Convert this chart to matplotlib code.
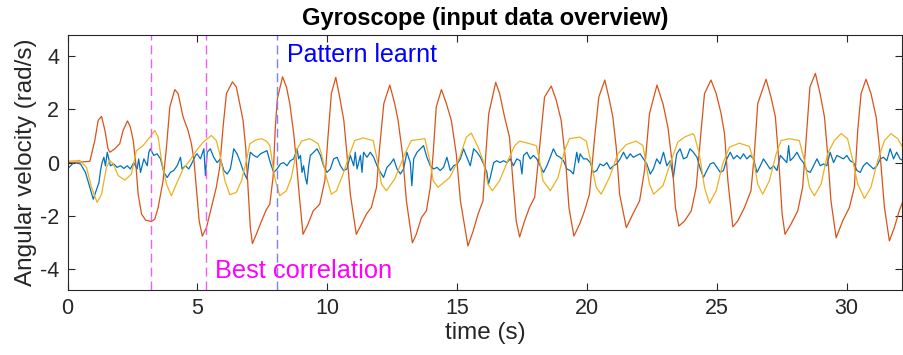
import matplotlib.pyplot as plt

plt.rcParams['font.family'] = ['Liberation Sans', 'DejaVu Sans']
plt.rcParams['axes.unicode_minus'] = False

# gyroscope signals (time in s, value in rad/s)
t_x = [0.0, 0.24, 0.50, 0.69, 0.88, 0.99, 1.08, 1.21, 1.27, 1.33, 1.40, 1.46, 1.53, 1.59, 1.65,
       1.78, 1.91, 2.04, 2.17, 2.30, 2.42, 2.55, 2.68, 2.74, 2.81, 2.94, 3.07, 3.13, 3.19, 3.32,
       3.45, 3.58, 3.71, 3.84, 3.96, 4.09, 4.22, 4.35, 4.41, 4.54, 4.67, 4.80, 4.93, 4.99, 5.12,
       5.25, 5.31, 5.38, 5.50, 5.63, 5.76, 5.89, 6.02, 6.15, 6.27, 6.34, 6.40, 6.53, 6.66, 6.79,
       6.91, 6.98, 7.04, 7.17, 7.30, 7.43, 7.56, 7.68, 7.81, 7.94, 8.07, 8.20, 8.32, 8.45, 8.58,
       8.71, 8.84, 8.90, 8.97, 9.03, 9.09, 9.16, 9.22, 9.29, 9.35, 9.48, 9.61, 9.74, 9.86, 9.99,
       10.12, 10.25, 10.38, 10.51, 10.63, 10.76, 10.89, 11.02, 11.08, 11.15, 11.28, 11.34, 11.40,
       11.53, 11.66, 11.79, 11.92, 12.05, 12.17, 12.30, 12.43, 12.56, 12.69, 12.82, 12.94, 13.07,
       13.20, 13.26, 13.33, 13.46, 13.59, 13.71, 13.84, 13.97, 14.10, 14.23, 14.35, 14.48, 14.61,
       14.74, 14.87, 15.00, 15.13, 15.25, 15.38, 15.51, 15.64, 15.77, 15.90, 16.02, 16.15, 16.21,
       16.28, 16.41, 16.53, 16.66, 16.79, 16.92, 17.05, 17.17, 17.30, 17.43, 17.50, 17.56, 17.69,
       17.82, 17.94, 18.07, 18.20, 18.33, 18.46, 18.59, 18.71, 18.84, 18.97, 19.10, 19.23, 19.36,
       19.48, 19.61, 19.68, 19.74, 19.87, 20.00, 20.13, 20.25, 20.38, 20.51, 20.64, 20.77, 20.90,
       21.02, 21.15, 21.28, 21.41, 21.54, 21.67, 21.79, 21.92, 22.05, 22.18, 22.31, 22.44, 22.56,
       22.69, 22.82, 22.95, 23.08, 23.21, 23.33, 23.46, 23.59, 23.72, 23.85, 23.97, 24.10, 24.24,
       24.37, 24.49, 24.62, 24.75, 24.88, 25.01, 25.14, 25.26, 25.39, 25.52, 25.65, 25.78, 25.91,
       26.03, 26.16, 26.29, 26.42, 26.55, 26.68, 26.80, 26.93, 27.06, 27.19, 27.32, 27.45, 27.57,
       27.70, 27.77, 27.83, 27.96, 28.09, 28.22, 28.34, 28.47, 28.60, 28.73, 28.86, 28.99, 29.11,
       29.24, 29.37, 29.50, 29.63, 29.76, 29.88, 30.01, 30.14, 30.27, 30.40, 30.53, 30.65, 30.78,
       30.91, 31.04, 31.17, 31.30, 31.42, 31.55, 31.68, 31.81, 31.93, 32.06, 32.19]
gyro_x = [-0.24, 0.0, -0.05, -0.37, -1.0, -1.38, -1.12, -0.75, -0.30, 0.0, 0.20, -0.12, 0.39, 0.14, -0.12,
          -0.05, -0.18, -0.12, -0.22, -0.12, -0.24, 0.0, -0.24, 0.14, -0.37, 0.14, -0.12, 0.39, 0.52, 0.27,
          0.33, 0.14, -0.37, -0.56, -0.37, -0.30, -0.12, 0.20, -0.24, -0.12, -0.24, 0.0, 0.27, 0.33, 0.14,
          0.52, -0.49, 0.39, 0.52, 0.20, 0.0, 0.14, -0.30, -0.43, -0.24, 0.14, 0.52, 0.33, 0.0, -0.37,
          -0.62, 0.0, 0.39, 0.27, 0.20, 0.33, 0.39, 0.45, 0.0, -0.37, -0.24, -0.05, 0.0, -0.12, 0.07,
          0.14, 0.52, 0.14, 0.27, -0.37, -0.12, -0.56, -0.81, -0.12, 0.27, 0.39, 0.52, 0.27, -0.12, -0.37,
          -0.24, 0.14, 0.20, -0.12, -0.30, -0.24, 0.27, -0.12, 0.39, -0.24, 0.27, -0.37, 0.39,
          0.20, 0.39, 0.20, -0.12, -0.37, -0.56, -0.18, -0.05, 0.14, -0.24, -0.43, -0.24, 0.39,
          0.0, -0.87, 0.14, 0.39, 0.52, 0.64, 0.20, -0.12, -0.24, -0.18, -0.30, -0.18, 0.20,
          -0.30, -0.12, -0.05, 0.14, 0.52, 0.20, -0.12, 0.52, 0.39, 0.20, -0.05, -0.37, -0.81,
          -0.56, 0.0, 0.07, 0.0, 0.07, 0.0, 0.14, -0.12, 0.14, 0.07, -0.43, 0.27, 0.39,
          0.14, 0.27, 0.14, -0.12, -0.37, -0.12, 0.20, 0.52, 0.27, 0.20, 0.07, -0.24, -0.30,
          -0.43, 0.39, 0.0, 0.33, 0.14, 0.14, 0.0, -0.37, -0.30, -0.05, -0.12, 0.0, -0.24,
          -0.12, -0.05, 0.14, 0.39, 0.14, 0.33, 0.20, 0.27, 0.33, 0.14, -0.05, -0.43, -0.24,
          0.14, -0.05, 0.39, -0.12, 0.07, -0.56, 0.33, 0.52, 0.14, 0.20, 0.52, 0.39, 0.20,
          -0.24, -0.56, -0.30, -0.05, 0.0, -0.18, -0.37, -0.30, 0.14, 0.39, 0.14, 0.27, 0.14,
          0.33, 0.14, 0.27, 0.14, -0.37, -0.12, 0.14, -0.05, -0.24, -0.12, -0.30, 0.27, 0.14,
          0.0, 0.64, 0.07, 0.20, 0.39, 0.14, 0.0, -0.30, -0.37, -0.12, 0.14, -0.12, -0.05,
          -0.12, 0.39, 0.0, 0.27, 0.20, 0.14, 0.27, 0.07, 0.0, -0.30, -0.37, -0.12, 0.0,
          -0.12, -0.24, -0.12, 0.14, 0.20, 0.07, 0.52, 0.14, 0.39, 0.14, 0.07]

t_y = [0.0, 0.5, 0.86, 1.05, 1.18, 1.31, 1.44, 1.56, 1.63, 1.82, 2.01, 2.14, 2.31, 2.42, 2.53,
       2.63, 2.72, 2.85, 3.01, 3.23, 3.36, 3.49, 3.68, 3.81, 3.94, 4.13, 4.26, 4.45, 4.64, 4.77,
       4.87, 4.96, 5.07, 5.19, 5.35, 5.54, 5.73, 5.86, 5.99, 6.12, 6.35, 6.50, 6.63, 6.76, 6.86,
       6.95, 7.04, 7.12, 7.27, 7.47, 7.66, 7.79, 7.92, 8.00, 8.08, 8.28, 8.43, 8.56, 8.71, 8.81,
       8.92, 9.07, 9.26, 9.46, 9.71, 9.91, 10.03, 10.16, 10.33, 10.48, 10.64, 10.76, 10.89, 11.12,
       11.32, 11.51, 11.70, 11.90, 12.02, 12.18, 12.41, 12.60, 12.73, 12.90, 13.05, 13.28, 13.43,
       13.63, 13.82, 13.97, 14.08, 14.20, 14.40, 14.59, 14.78, 14.97, 15.13, 15.42, 15.62, 15.81,
       16.00, 16.10, 16.22, 16.49, 16.64, 16.83, 17.02, 17.15, 17.28, 17.41, 17.60, 17.79, 17.99,
       18.18, 18.37, 18.63, 18.82, 19.01, 19.18, 19.31, 19.50, 19.72, 19.91, 20.10, 20.30, 20.46,
       20.69, 20.87, 21.00, 21.13, 21.26, 21.52, 21.77, 22.03, 22.22, 22.41, 22.70, 22.93, 23.12,
       23.29, 23.41, 23.54, 23.76, 24.02, 24.21, 24.40, 24.53, 24.78, 24.98, 25.17, 25.30, 25.43,
       25.62, 25.81, 26.07, 26.32, 26.45, 26.58, 26.90, 27.09, 27.26, 27.39, 27.52, 27.63, 27.86,
       28.12, 28.31, 28.47, 28.59, 28.80, 28.98, 29.15, 29.27, 29.40, 29.60, 29.85, 30.11, 30.30,
       30.43, 30.56, 30.75, 30.94, 31.14, 31.29, 31.46, 31.65, 31.84, 32.03, 32.19]
gyro_y = [0.0, 0.02, 0.05, 0.83, 1.59, 1.74, 1.21, 0.52, 0.39, 0.52, 0.71, 1.21, 1.57, 1.34, 0.83,
          -0.05, -1.19, -1.94, -2.17, -2.22, -2.13, -1.69, -0.68, 0.58, 2.10, 2.75, 2.60, 1.72, 1.21, 0.71,
          0.08, -0.93, -2.20, -2.77, -2.45, -1.69, -0.93, -0.18, 1.34, 2.60, 3.04, 2.85, 2.22, 1.59, 0.58,
          -0.93, -2.45, -3.05, -2.70, -2.20, -1.76, -1.57, -0.50, 1.30, 2.40, 3.23, 2.85, 2.22, 1.09, 0.08,
          -1.19, -2.70, -2.32, -1.82, -1.57, -0.68, 0.96, 2.60, 3.21, 2.47, 1.59, 0.33, -1.19, -2.70,
          -2.32, -1.94, -1.69, -0.93, 0.58, 2.22, 2.92, 2.22, 1.59, 0.33, -1.44, -3.02, -2.70,
          -2.07, -1.82, -0.93, 0.33, 2.10, 2.75, 2.22, 1.59, 0.33, -1.44, -3.14, -2.58, -1.94,
          -1.44, 0.20, 1.84, 3.02, 2.60, 1.72, 0.96, -0.68, -2.20, -2.80, -2.20, -1.69, -1.31,
          0.58, 2.47, 2.88, 2.35, 1.59, 0.08, -1.69, -2.77, -2.32, -1.82, -1.19, 0.96, 2.47,
          3.11, 2.35, 1.72, 0.58, -1.19, -2.45, -1.94, -1.44, -0.30, 1.84, 2.92, 2.22, 1.34,
          -0.05, -1.69, -2.39, -2.20, -1.82, -0.93, 1.21, 2.60, 3.11, 2.60, 1.84, 1.09, -0.68,
          -2.42, -2.20, -1.69, -1.06, 0.33, 2.22, 3.14, 2.47, 1.72, 0.08, -1.94, -2.70, -2.32,
          -1.82, -0.93, 1.21, 2.85, 3.36, 2.60, 1.72, 0.33, -1.44, -2.83, -2.20, -1.69, -0.93,
          1.21, 2.60, 3.14, 2.60, 1.72, 0.33, -1.69, -2.95, -2.45, -1.82, -1.40]

t_z = [0.0, 0.47, 0.73, 0.92, 1.14, 1.31, 1.50, 1.63, 1.76, 1.95, 2.21, 2.46, 2.65, 2.91, 3.17,
       3.36, 3.49, 3.62, 3.81, 4.00, 4.19, 4.45, 4.71, 4.96, 5.22, 5.54, 5.73, 5.86, 6.06, 6.25,
       6.50, 6.70, 6.89, 7.02, 7.27, 7.47, 7.66, 7.79, 7.98, 8.17, 8.43, 8.62, 8.82, 9.01, 9.33,
       9.65, 9.78, 9.97, 10.16, 10.36, 10.61, 10.87, 11.06, 11.38, 11.77, 11.96, 12.09, 12.28,
       12.60, 12.99, 13.24, 13.76, 13.95, 14.08, 14.27, 14.72, 15.10, 15.36, 15.55, 15.81, 16.00,
       16.19, 16.36, 16.64, 16.96, 17.22, 17.41, 17.73, 18.05, 18.18, 18.31, 18.59, 18.89, 19.14,
       19.33, 19.72, 19.98, 20.17, 20.36, 20.55, 20.87, 21.19, 21.52, 21.90, 22.16, 22.28, 22.41,
       22.57, 22.93, 23.25, 23.50, 23.76, 24.08, 24.14, 24.33, 24.53, 24.72, 24.98, 25.23, 25.49,
       25.87, 26.26, 26.45, 26.58, 26.77, 27.03, 27.29, 27.48, 27.80, 28.18, 28.38, 28.57, 28.76,
       29.02, 29.27, 29.53, 29.79, 30.04, 30.24, 30.43, 30.69, 30.94, 31.20, 31.46, 31.71, 31.97,
       32.16]
gyro_z = [0.05, 0.08, -0.18, -0.93, -1.50, -1.19, -0.18, 0.08, -0.05, -0.49, -0.66, -0.43, 0.45, 0.64, 0.96,
          1.21, 0.96, 0.08, -0.81, -1.25, -0.81, -0.24, 0.08, 0.45, 0.77, 1.02, 0.83, 0.33, -0.68, -1.21,
          -1.12, -0.68, 0.08, 0.71, 0.86, 0.90, 0.81, 0.64, -0.56, -1.25, -1.06, -0.56, 0.45, 0.81, 0.90,
          0.71, 0.33, -0.56, -1.19, -1.06, -0.43, 0.33, 0.83, 0.93, 0.83, -0.05, -0.81, -1.06,
          -0.62, 0.33, 0.83, 0.90, 0.08, -0.68, -0.93, -0.56, 0.20, 0.96, 1.11, 0.58, 0.08,
          -0.81, -1.06, -0.68, 0.08, 0.64, 0.81, 0.73, 0.64, 0.08, -0.68, -1.06, -0.56, 0.45,
          0.90, 0.96, 0.81, -0.05, -0.93, -1.19, -0.56, 0.33, 0.68, 0.81, 0.64, -0.05, -0.81,
          -1.19, -0.87, 0.08, 0.77, 0.96, 1.09, 1.02, 0.33, -0.93, -1.54, -1.06, -0.05, 0.58,
          0.73, 0.61, -0.05, -0.81, -1.19, -0.68, 0.33, 0.83, 0.90, 0.83, 0.08, -0.93, -1.25,
          -0.81, 0.33, 0.83, 1.09, 0.90, 0.08, -0.81, -1.35, -0.93, 0.08, 0.83, 1.09, 0.90,
          0.58]

# marker times for the learnt pattern
best_corr = [3.21, 5.32]
learnt_end = 8.06

fig = plt.figure(figsize=(9.04, 3.55), dpi=100)
ax = fig.add_axes([0.0747, 0.183, 0.9235, 0.718])

ax.plot(t_x, gyro_x, color='#0072BD', linewidth=0.9)
ax.plot(t_y, gyro_y, color='#D95319', linewidth=0.9)
ax.plot(t_z, gyro_z, color='#EDB120', linewidth=0.9)

for bc in best_corr:
    ax.axvline(bc, color='#F060F0', linestyle=(0, (6.5, 3.5)), linewidth=1.0)
ax.axvline(learnt_end, color='#7F7FFF', linestyle=(0, (6.5, 3.5)), linewidth=1.0)

ax.text(8.46, 4.05, 'Pattern learnt', color='#0000FF', fontsize=18, va='center', ha='left')
ax.text(5.69, -4.09, 'Best correlation', color='#FF00FF', fontsize=18.3, va='center', ha='left')

ax.set_xlim(0, 32.15)
ax.set_ylim(-4.8, 4.8)
ax.set_xticks([0, 5, 10, 15, 20, 25, 30])
ax.set_yticks([-4, -2, 0, 2, 4])
ax.tick_params(direction='in', top=True, right=True, length=5, width=0.8,
               labelsize=15.5, colors='#262626', pad=6)
for sp in ax.spines.values():
    sp.set_color('#262626')
    sp.set_linewidth(0.8)

ax.set_title('Gyroscope (input data overview)', fontsize=17, fontweight='bold', pad=7)
ax.set_xlabel('time (s)', fontsize=17.5, color='#262626', labelpad=2)
ax.set_ylabel('Angular velocity (rad/s)', fontsize=17.5, color='#262626', labelpad=2)

fig.savefig('out.png', dpi=100)
